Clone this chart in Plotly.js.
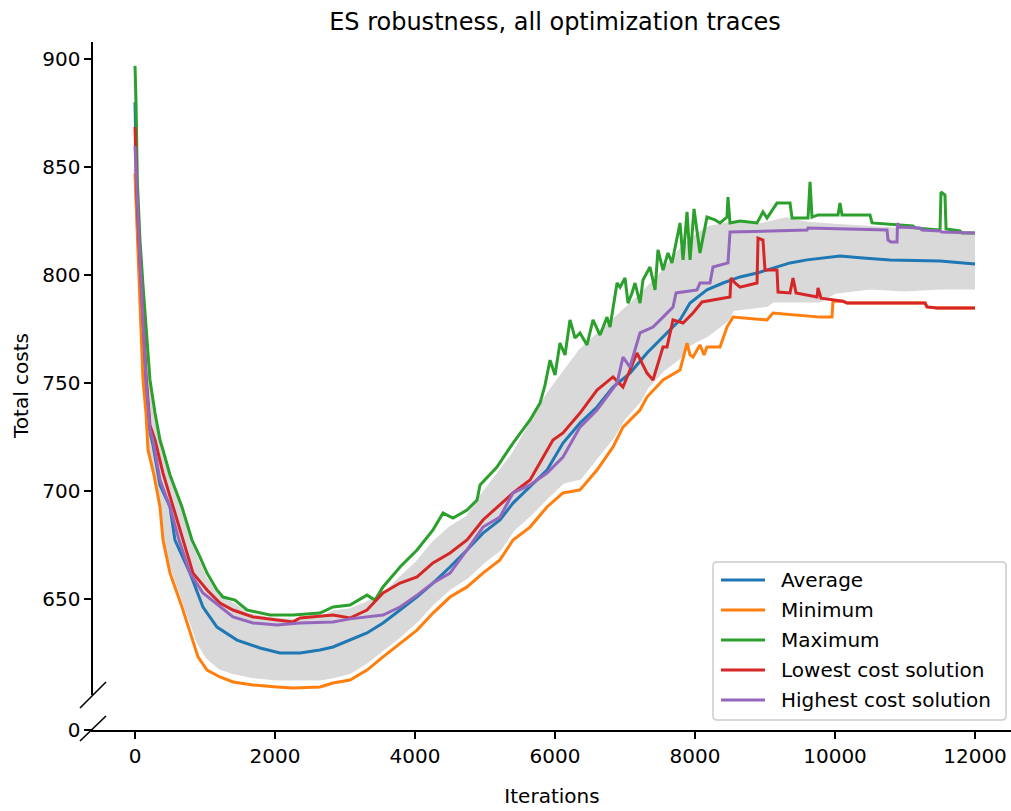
<!DOCTYPE html>
<html>
<head>
<meta charset="utf-8">
<script src="https://cdn.plot.ly/plotly-3.0.1.min.js"></script>
<style>html,body{margin:0;padding:0;background:#fff;overflow:hidden}</style>
</head>
<body>
<div id="chart" style="width:1011px;height:811px"></div>
<script>
// ---- data ----
const seriesNames = ['Average', 'Minimum', 'Maximum', 'Lowest cost solution', 'Highest cost solution'];
const seriesColors = ['#1f77b4', '#ff7f0e', '#2ca02c', '#d62728', '#9467bd'];
const xTicks = [0, 2000, 4000, 6000, 8000, 10000, 12000];
const yTicks = [650, 700, 750, 800, 850, 900];
const yLowTicks = [0];

const avgX = [0,29,71,114,157,214,257,357,500,571,786,971,1171,1457,1786,2071,2357,2643,2829,3314,3543,3786,4029,4257,4500,4743,4971,5214,5400,5886,6114,6357,6600,6829,7071,7314,7543,7786,7929,8171,8400,8643,8886,9114,9357,9600,10071,10400,10786,11500,12000];
const avgY = [880,834.7,806,778.2,750.5,727.3,721.3,702.8,692.6,677.3,662,646.3,637,631,627.3,625,625,626.4,627.8,634.3,638.9,644.9,651,657.4,664.8,672.7,680.5,686.6,694.4,709.7,722.2,731.5,738.9,748.1,754.6,763.9,771.3,779.2,787,793.1,796.3,799.1,800.9,803.2,805.6,807,808.8,807.9,807,806.5,805.1];

const minX = [0,14,43,71,114,157,186,271,357,400,500,671,786,900,1029,1214,1400,1686,2029,2257,2643,2829,3071,3314,3543,3786,4029,4257,4500,4743,4971,5214,5400,5643,5886,6114,6357,6600,6829,6971,7214,7314,7543,7786,7886,7929,7971,8071,8129,8171,8357,8457,8543,9029,9114,9786,9957,9971,10114,10171,11286,11314,11457,12000];
const minY = [847,834.7,807,788.4,751.4,736.1,719,707.4,692.6,677.3,662,646.3,634.3,623.2,617.1,613.9,611.6,610.2,609.3,608.8,609.3,611.1,612.5,617.1,623.2,629.6,635.6,643.5,650.9,655.6,662,668.1,677.3,683.3,692.6,699.1,700.5,709.7,720.4,729.6,737.5,743.5,751.4,756,768.5,763,762,767.6,763,766.7,766.7,775.9,780.5,779.2,782.4,780.5,780.5,787.9,787.9,787,787,785.2,784.7,784.7];

const maxX = [0,14,33,71,114,157,214,286,357,400,500,671,814,929,1029,1171,1257,1429,1600,1929,2257,2643,2829,3071,3314,3429,3543,3786,4029,4257,4400,4543,4743,4886,4929,5171,5400,5643,5786,5857,5929,6000,6071,6143,6214,6286,6357,6457,6543,6643,6743,6786,6886,6929,7000,7043,7100,7143,7214,7257,7357,7429,7471,7543,7614,7671,7786,7829,7886,7929,7986,8071,8171,8286,8357,8457,8471,8500,8643,8886,8971,9029,9171,9357,9386,9614,9643,9671,9757,10043,10071,10100,10500,10529,10886,11114,11143,11500,11514,11571,11586,11786,11814,12000];
const maxY = [896.8,881,844,816.2,795.4,774.5,751.4,736.1,723.6,719,707.4,692.6,677.3,669.4,662,654.2,650.9,649.5,644.9,642.6,642.6,643.5,646.3,647.2,651.8,649.5,655.6,664.8,672.7,682,689.8,687.5,691.2,695.8,702.8,711.1,722.2,732.9,740.7,749,760.6,753.7,768.5,763,779.2,770.8,773.2,767.6,779.2,772.2,780.5,775.9,796.3,794.4,798.6,787,791.7,796.3,787,797.7,803.7,793.1,811.6,802.3,810.2,805.6,824.1,807,829.2,807,830.6,810.2,826.8,825.5,824.1,826.8,836.1,824.1,825,824.1,829.2,826.4,833.3,833.3,826.4,826.4,843.1,826.8,827.8,827.8,833.3,827.8,827.8,824.1,823.1,822.7,821.8,820.8,838.4,837,821.3,820.4,819.4,819.4];

const loX = [0,29,71,114,157,214,286,400,543,686,829,1029,1214,1400,1686,2029,2257,2357,2829,3071,3314,3543,3786,4029,4257,4500,4743,4971,5171,5400,5643,5829,5971,6114,6357,6600,6829,6971,7171,7314,7400,7543,7600,7686,7829,7971,8100,8500,8514,8571,8643,8886,8900,8971,9000,9171,9186,9357,9400,9443,9743,9757,9800,10114,10171,11286,11314,11457,12000];
const loY = [868.5,834.7,806,779.2,753.7,730.5,723.6,708.3,692.6,677.3,662,654.2,648.1,644.9,641.7,640.3,639.4,641.2,642.6,641.2,644.9,652.8,657.4,660.2,666.7,671.3,677.3,686.6,692.6,699.1,705.1,715.7,723.6,726.9,736.1,746.7,752.8,748.1,763.9,754.6,751.4,766.7,766.7,779.2,777.8,782.4,787.5,789.8,798.6,796.3,794.4,796.3,817.1,816.2,802.3,802.3,792.1,791.7,798.6,791.7,789.8,794,789.3,787.9,787,787,785.2,784.7,784.7];

const hiX = [0,29,71,114,157,214,257,357,500,629,786,971,1214,1400,1686,2029,2357,2643,2829,3071,3314,3543,3786,4029,4257,4500,4743,4971,5214,5400,5643,5886,6114,6357,6600,6886,6971,7071,7214,7400,7543,7686,7729,8029,8071,8214,8257,8471,8500,9600,9614,10743,10757,10800,10886,10893,10914,11214,11243,11500,11529,12000];
const hiY = [859.7,834.7,807,779.2,751.4,728.2,723.6,705.1,692.6,677.3,662,652.8,646.3,641.7,638.9,638,638.9,639.4,639.4,640.8,641.7,642.6,646.3,651.8,657.4,662,672.7,683.3,688,699.1,702.8,708.3,715.7,729.6,737.5,750,762,757.4,773.2,775.9,780.5,785.2,791.7,793.1,796.3,796.3,803.7,805.6,819.9,820.8,821.8,820.8,816.2,815.3,815.3,824.1,822.2,821.8,820.8,820.4,819.9,819.4];

// envelope of all individual (grey) optimisation traces
const tracesTopX = [0,30,70,110,160,210,290,400,500,670,800,1000,1200,1430,1600,1900,2300,2650,2830,3070,3300,3550,3800,4030,4260,4500,4750,4930,5400,5900,6360,6800,7200,7500,7800,8000,8200,8500,8900,9300,9600,10000,10500,11000,11500,12000];
const tracesTopY = [890,840,812,790,770,748,733,716,704,690,675,660,651,647,643,641,640,641,644,645,648,652,660,667,676,683,688,697,717,745,765,778,790,800,812,818,822,824,823,826,824,823,822,821,820,819];
const tracesBotX = [0,14,43,71,114,157,186,271,357,400,500,671,786,900,1029,1214,1400,1686,2029,2257,2643,2829,3071,3314,3543,3786,4029,4257,4500,4743,4971,5214,5400,5643,5886,6114,6357,6600,6829,6971,7214,7314,7543,7786,7929,8171,8457,8543,9029,9114,9786,10000,10500,11000,11500,12000];
const tracesBotY = [849,837,810,792,756,740,724,712,697,683,667,651,640,630,623,618,616,614,613,613,613,614,616,621,627,633,640,648,655,660,667,673,682,689,697,704,706,716,725,733,742,748,756,762,768,772,779,784,786,788,788,792,794,793,794,794];

// ---- geometry helpers (pixel -> paper) ----
const FIG_W = 1011, FIG_H = 811;
const M = {l: 93, r: 0, t: 42, b: 81};
const PW = FIG_W - M.l - M.r, PH = FIG_H - M.t - M.b;
const px = x => (x - M.l) / PW;
const py = y => (FIG_H - M.b - y) / PH;

const grey = '#d9d9d9';
const LW = 3;

const data = [
  // lower (broken) panel: holds no marks, but defines the subplot carrying the x axis
  {x: [], y: [], type: 'scatter', mode: 'lines', showlegend: false, hoverinfo: 'skip', xaxis: 'x', yaxis: 'y2'},
  {x: tracesBotX, y: tracesBotY, type: 'scatter', mode: 'lines', line: {color: grey, width: LW}, showlegend: false, hoverinfo: 'skip', xaxis: 'x', yaxis: 'y'},
  {x: tracesTopX, y: tracesTopY, type: 'scatter', mode: 'lines', line: {color: grey, width: LW}, fill: 'tonexty', fillcolor: grey, showlegend: false, hoverinfo: 'skip', xaxis: 'x', yaxis: 'y'}
];
const sx = [avgX, minX, maxX, loX, hiX];
const sy = [avgY, minY, maxY, loY, hiY];
for (let i = 0; i < 5; i++) {
  data.push({x: sx[i], y: sy[i], type: 'scatter', mode: 'lines', name: seriesNames[i],
    line: {color: seriesColors[i], width: LW}, showlegend: false, xaxis: 'x', yaxis: 'y'});
}

// legend (matplotlib style box)
const lgL = 713, lgR = 1006, lgT = 562, lgB = 720, rad = 4;
const rx = rad / PW, ry = rad / PH;
const x0 = px(lgL), x1 = px(lgR), yT = py(lgT), yB = py(lgB);
const legendPath = `M ${x0+rx},${yT} L ${x1-rx},${yT} Q ${x1},${yT} ${x1},${yT-ry} L ${x1},${yB+ry} Q ${x1},${yB} ${x1-rx},${yB} L ${x0+rx},${yB} Q ${x0},${yB} ${x0},${yB+ry} L ${x0},${yT-ry} Q ${x0},${yT} ${x0+rx},${yT} Z`;

const shapes = [
  {type: 'path', xref: 'paper', yref: 'paper', path: legendPath, line: {color: '#cccccc', width: 1.5}, fillcolor: 'rgba(255,255,255,0.8)', layer: 'above'},
  // break marks
  {type: 'line', xref: 'paper', yref: 'paper', x0: px(80), y0: py(708), x1: px(106), y1: py(682), line: {color: '#000', width: 1.6}},
  {type: 'line', xref: 'paper', yref: 'paper', x0: px(80), y0: py(741), x1: px(106), y1: py(716), line: {color: '#000', width: 1.6}}
];
const annotations = [
  {text: 'Total costs', xref: 'paper', yref: 'paper', x: px(21), y: 0.5, textangle: -90, showarrow: false, xanchor: 'center', yanchor: 'middle', font: {size: 20}}
];
for (let i = 0; i < 5; i++) {
  const rowY = 580 + 30 * i;
  shapes.push({type: 'line', xref: 'paper', yref: 'paper', x0: px(721), x1: px(765), y0: py(rowY), y1: py(rowY), line: {color: seriesColors[i], width: LW}, layer: 'above'});
  annotations.push({text: seriesNames[i], xref: 'paper', yref: 'paper', x: px(779), y: py(rowY), xanchor: 'left', yanchor: 'middle', showarrow: false, font: {size: 20}});
}

const axisCommon = {showline: true, linecolor: '#000', linewidth: 1.6, ticks: 'outside', ticklen: 7, tickwidth: 1.6, tickcolor: '#000', showgrid: false, zeroline: false, fixedrange: true, automargin: false};

const layout = {
  width: FIG_W, height: FIG_H,
  margin: {l: M.l, r: M.r, t: M.t, b: M.b, pad: 0, autoexpand: false},
  paper_bgcolor: '#fff', plot_bgcolor: 'rgba(0,0,0,0)',
  font: {family: 'DejaVu Sans, sans-serif', size: 20, color: '#000'},
  title: {text: 'ES robustness, all optimization traces', font: {size: 24}, xref: 'paper', x: px(555), xanchor: 'center', yref: 'container', y: 1 - 22 / FIG_H, yanchor: 'middle', automargin: false},
  showlegend: false,
  xaxis: Object.assign({}, axisCommon, {domain: [0, 1], range: [-600, 12514], anchor: 'y2', tickmode: 'array', tickvals: xTicks, ticktext: xTicks.map(String),
    title: {text: 'Iterations', standoff: 22, font: {size: 20}}}),
  yaxis: Object.assign({}, axisCommon, {domain: [py(695), 1], range: [605.56, 907.87], anchor: 'x', tickmode: 'array', tickvals: yTicks, ticktext: yTicks.map(String)}),
  yaxis2: Object.assign({}, axisCommon, {domain: [0, 0.002], range: [0, 1], anchor: 'x', tickmode: 'array', tickvals: yLowTicks, ticktext: yLowTicks.map(String)}),
  shapes: shapes,
  annotations: annotations
};

Plotly.newPlot('chart', data, layout, {displayModeBar: false, staticPlot: true});
</script>
</body>
</html>
